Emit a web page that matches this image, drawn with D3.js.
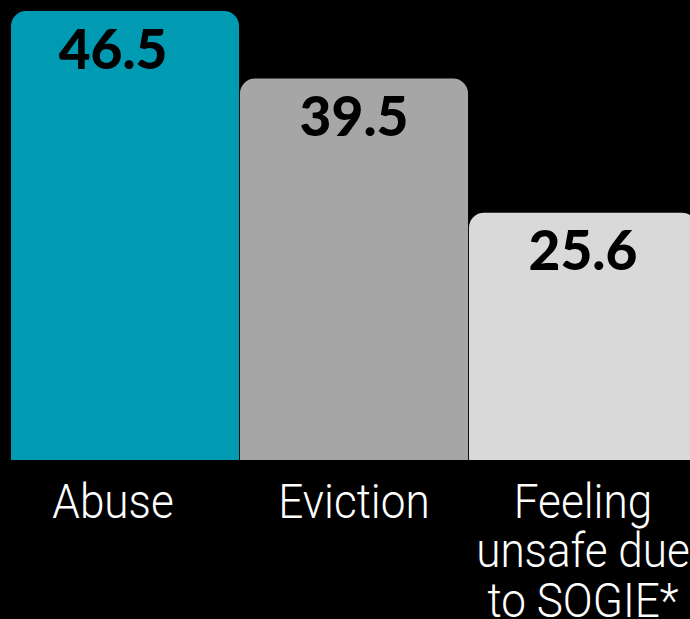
<!DOCTYPE html>
<html>
<head>
<meta charset="utf-8">
<script src="https://cdn.jsdelivr.net/npm/d3@7"></script>
<style>
  html, body { margin: 0; padding: 0; background: #000; }
  svg { display: block; }
</style>
</head>
<body>
<svg id="chart" width="690" height="619"></svg>
<script>
// Share of respondents citing each reason
const categories = ["Abuse", "Eviction", "Feeling unsafe due to SOGIE*"];
const values = [46.5, 39.5, 25.6];
const labelLines = [["Abuse"], ["Eviction"], ["Feeling", "unsafe due", "to SOGIE*"]];
const colors = ["#009ab3", "#a6a6a6", "#d9d9d9"];

const width = 690, height = 619;
const svg = d3.select("#chart");

const x = d3.scaleBand()
  .domain(categories)
  .range([11, 697])
  .paddingInner(0.004)
  .paddingOuter(0);

const y = d3.scaleLinear()
  .domain([0, d3.max(values)])
  .range([460, 11]);

const r = 15;
function topRounded(x0, y0, w, h) {
  const p = d3.path();
  p.moveTo(x0, y0 + h);
  p.lineTo(x0, y0 + r);
  p.arcTo(x0, y0, x0 + r, y0, r);
  p.lineTo(x0 + w - r, y0);
  p.arcTo(x0 + w, y0, x0 + w, y0 + r, r);
  p.lineTo(x0 + w, y0 + h);
  p.closePath();
  return p.toString();
}

const data = categories.map((c, i) => ({ c, i, v: values[i], lines: labelLines[i], color: colors[i] }));

// the first column's texts sit a little left of its centre
const centre = d => x(d.c) + x.bandwidth() / 2 - (d.i === 0 ? 12 : 0);

// bars
svg.selectAll("path.bar")
  .data(data)
  .join("path")
  .attr("class", "bar")
  .attr("fill", d => d.color)
  .attr("d", d => topRounded(x(d.c), y(d.v), x.bandwidth(), y(0) - y(d.v)));

// value labels inside the bar tops
svg.selectAll("text.value")
  .data(data)
  .join("text")
  .attr("class", "value")
  .attr("x", centre)
  .attr("y", d => y(d.v) + 57.5)
  .attr("text-anchor", "middle")
  .attr("font-family", "Lato, 'Noto Sans', sans-serif")
  .attr("font-weight", 900)
  .attr("font-size", 55)
  .attr("fill", "#000")
  .text(d => d3.format(".1f")(d.v));

// category labels below the baseline
const labels = svg.selectAll("g.cat")
  .data(data)
  .join("g")
  .attr("class", "cat")
  .attr("transform", d => `translate(${centre(d)},518) scale(0.9,1)`);

labels.selectAll("text")
  .data(d => d.lines)
  .join("text")
  .attr("x", 0)
  .attr("y", (d, i) => i * 49.5)
  .attr("text-anchor", "middle")
  .attr("font-family", "Roboto, 'Liberation Sans', sans-serif")
  .attr("font-weight", 300)
  .attr("font-size", 49)
  .attr("fill", "#fff")
  .text(d => d);
</script>
</body>
</html>
